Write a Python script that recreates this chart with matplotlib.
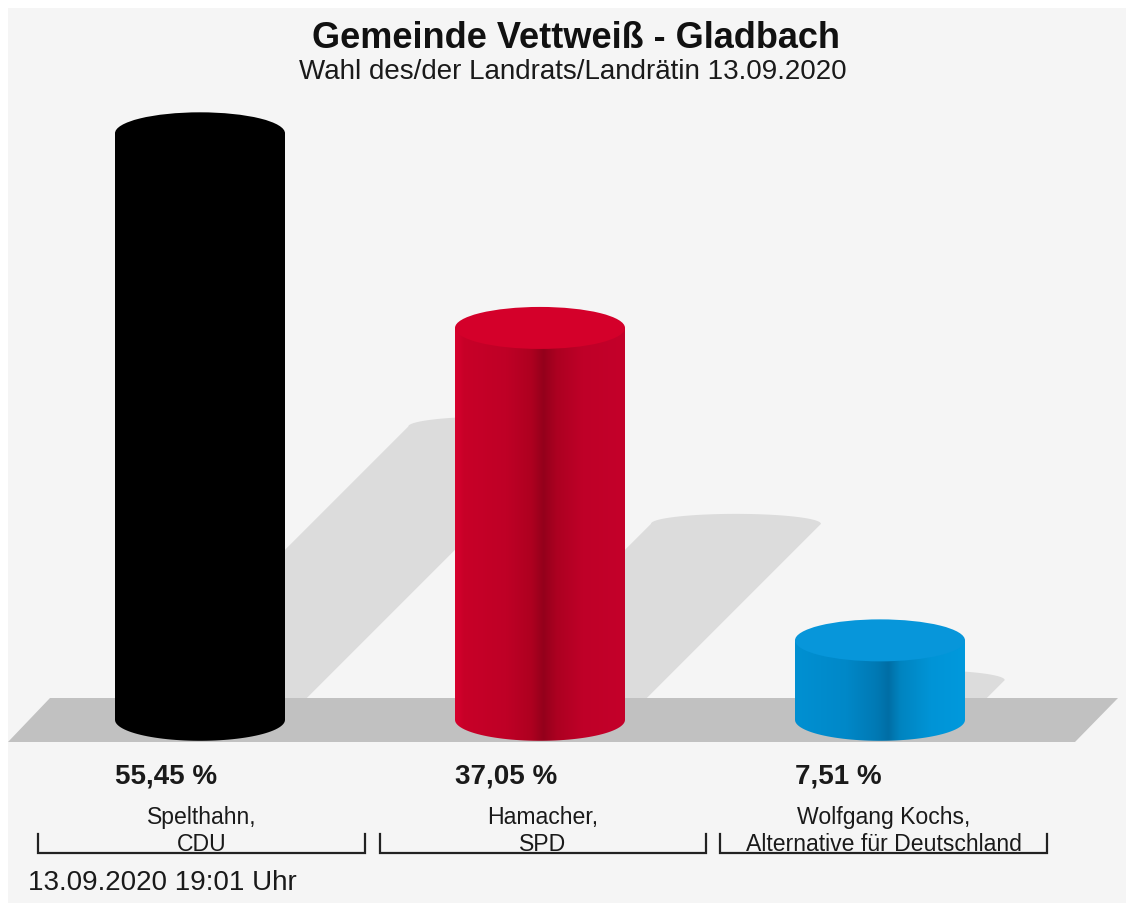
import numpy as np
import matplotlib
matplotlib.use("Agg")
import matplotlib.pyplot as plt
from matplotlib.patches import Polygon, Ellipse, PathPatch, Rectangle
from matplotlib.path import Path
from matplotlib.colors import LinearSegmentedColormap
from matplotlib.transforms import blended_transform_factory

plt.rcParams['font.family'] = ['Liberation Sans', 'DejaVu Sans']

# Data
candidates = ["Spelthahn,\nCDU", "Hamacher,\nSPD", "Wolfgang Kochs,\nAlternative für Deutschland"]
values = [55.45, 37.05, 7.51]
value_labels = ["55,45 %", "37,05 %", "7,51 %"]
title = "Gemeinde Vettweiß - Gladbach"
subtitle = "Wahl des/der Landrats/Landrätin 13.09.2020"
stamp = "13.09.2020 19:01 Uhr"

# colours: body gradient stops, top colour
body_stops = [
    [(0, "#000000"), (1, "#000000")],
    [(0, "#d8002e"), (0.05, "#c80028"), (0.3, "#bf0026"), (0.45, "#ae0020"),
     (0.52, "#94001b"), (0.6, "#ac0021"), (0.75, "#bf0028"), (1, "#c4002a")],
    [(0, "#0090d2"), (0.3, "#0088c8"), (0.48, "#0079b4"), (0.55, "#006ea5"),
     (0.62, "#0084c0"), (0.8, "#0094d6"), (1, "#0099dd")],
]
top_colors = ["#000000", "#d4002a", "#0796da"]

W, H = 1134, 908
fig = plt.figure(figsize=(W / 100, H / 100), dpi=100)
fig.patch.set_facecolor("white")

bg = fig.add_axes([0, 0, 1, 1])
bg.set_xlim(0, W)
bg.set_ylim(H, 0)
bg.axis("off")
bg.add_patch(Rectangle((8, 8), 1118, 895, facecolor="#f5f5f5", edgecolor="none"))

# bar axes: x categories, y percent
Y_BOT, Y_TOP = -3.8, 58.6
ax = fig.add_axes([30 / W, (H - 760) / H, 1020 / W, 660 / H])
ax.set_zorder(1)
ax.axis("off")
sx = 1020 / 3.0
sy = 660 / (Y_TOP - Y_BOT)
half_w = 0.25
ey = 21 / sy      # ellipse semi-height of cylinder caps
es = 10 / sy      # ellipse semi-height of shadow top

# floor
floor = Polygon([(8, 742), (50, 698), (1118, 698), (1075, 742)], closed=True,
                facecolor="#c1c1c1", edgecolor="none", transform=bg.transData,
                zorder=2, clip_on=False)
ax.add_patch(floor)

t_top = np.linspace(np.pi, 0, 60)
t_bot = np.linspace(np.pi, 2 * np.pi, 60)
for i, v in enumerate(values):
    # shadow
    shift = v * sy / 2 / sx
    ys = v / 2
    pts = [(i - half_w, 0), (i - half_w + shift, ys)]
    pts += list(zip(i + shift + half_w * np.cos(t_top), ys + es * np.sin(t_top)))
    pts += [(i + half_w + shift, ys), (i + half_w, 0)]
    ax.add_patch(Polygon(pts, closed=True, facecolor="#dcdcdc", edgecolor="none",
                         zorder=1, clip_on=False))

    # cylinder body with gradient
    verts = list(zip(i + half_w * np.cos(t_bot), ey * np.sin(t_bot)))
    verts += [(i + half_w, v), (i - half_w, v), (i - half_w, 0)]
    body = PathPatch(Path(verts + [verts[0]]), facecolor="none", edgecolor="none",
                     zorder=3, clip_on=False)
    ax.add_patch(body)
    cmap = LinearSegmentedColormap.from_list(f"c{i}", body_stops[i])
    grad = np.linspace(0, 1, 256).reshape(1, -1)
    im = ax.imshow(grad, cmap=cmap, extent=[i - half_w, i + half_w, -ey - 0.1, v],
                   aspect="auto", interpolation="bicubic", zorder=3)
    im.set_clip_path(body)

    # top cap
    ax.add_patch(Ellipse((i, v), 2 * half_w, 2 * ey, facecolor=top_colors[i],
                         edgecolor="none", zorder=4, clip_on=False))

ax.set_xlim(-0.5, 2.5)
ax.set_ylim(Y_BOT, Y_TOP)

# value labels, left aligned at bar edge
tr = blended_transform_factory(ax.transData, bg.transData)
for i, lab in enumerate(value_labels):
    ax.text(i - half_w, 776, lab, transform=tr, ha="left", va="center",
            fontsize=20, fontweight="bold", color="#1a1a1a", clip_on=False)

# titles
bg.text(576, 38, title, ha="center", va="center", fontsize=26, fontweight="bold", color="#111111")
bg.text(573, 72, subtitle, ha="center", va="center", fontsize=20, color="#1a1a1a")

# candidate names with brackets
brackets = [(38, 365), (380, 706), (720, 1047)]
for (x0, x1), name in zip(brackets, candidates):
    bg.plot([x0, x0, x1, x1], [834, 853, 853, 834], color="#222222", lw=1.6,
            solid_joinstyle="miter")
    bg.text((x0 + x1) / 2, 831, name, ha="center", va="center", fontsize=16.6,
            color="#1a1a1a", linespacing=1.17)

bg.text(28, 883, stamp, ha="left", va="center", fontsize=20, color="#1a1a1a")

fig.savefig("out.png", dpi=100)
